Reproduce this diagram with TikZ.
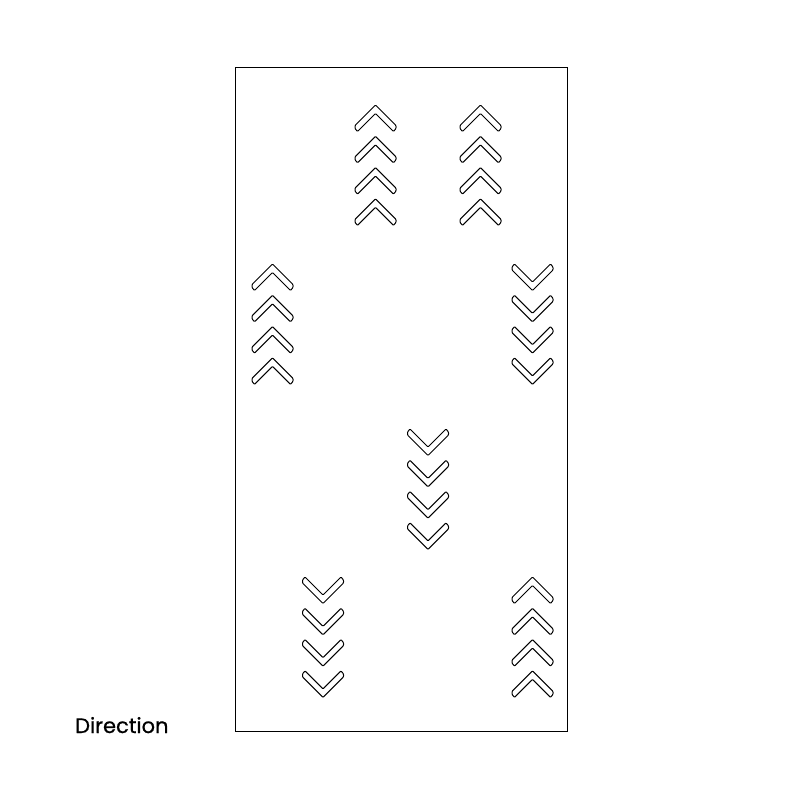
\documentclass[tikz,border=0pt]{standalone}
\usepackage{fontspec}
\setmainfont{Poppins}
\newfontfamily\labelfont{Poppins}[FakeBold=0.7]
\begin{document}
\begin{tikzpicture}[x=1pt,y=-1pt]
\tikzset{
  chev/.style={draw=black,line width=1pt,line join=round,rounded corners=0.8pt},
  frame/.style={draw=black,line width=1pt},
  chevup/.pic={\draw[chev] (0,0) -- (20.5,20.5) -- (20.5,23.5) -- (18,26.5) -- (0,8.5) -- (-18,26.5) -- (-20.5,23.5) -- (-20.5,20.5) -- cycle;},
  chevdown/.pic={\begin{scope}[yscale=-1]\draw[chev] (0,0) -- (20.5,20.5) -- (20.5,23.5) -- (18,26.5) -- (0,8.5) -- (-18,26.5) -- (-20.5,23.5) -- (-20.5,20.5) -- cycle;\end{scope}}
}
\useasboundingbox (0,0) rectangle (800,800);
\draw[frame] (235,68) rectangle (567,731);
% up columns
\foreach \cx/\ty in {375.5/105, 480.5/105, 272.5/264, 532.5/577}{
  \foreach \i in {0,1,2,3}{
    \pic at (\cx,\ty+\i*31.3) {chevup};
  }
}
% down columns
\foreach \cx/\ty in {532.5/264, 428/429, 323/577}{
  \foreach \i in {0,1,2,3}{
    \pic at (\cx,\ty+\i*31.3+26.5) {chevdown};
  }
}
\node[anchor=base west,inner sep=0pt,font=\labelfont\fontsize{21}{25}\selectfont] (label) at (75,733) {Direction};
\end{tikzpicture}
\end{document}
